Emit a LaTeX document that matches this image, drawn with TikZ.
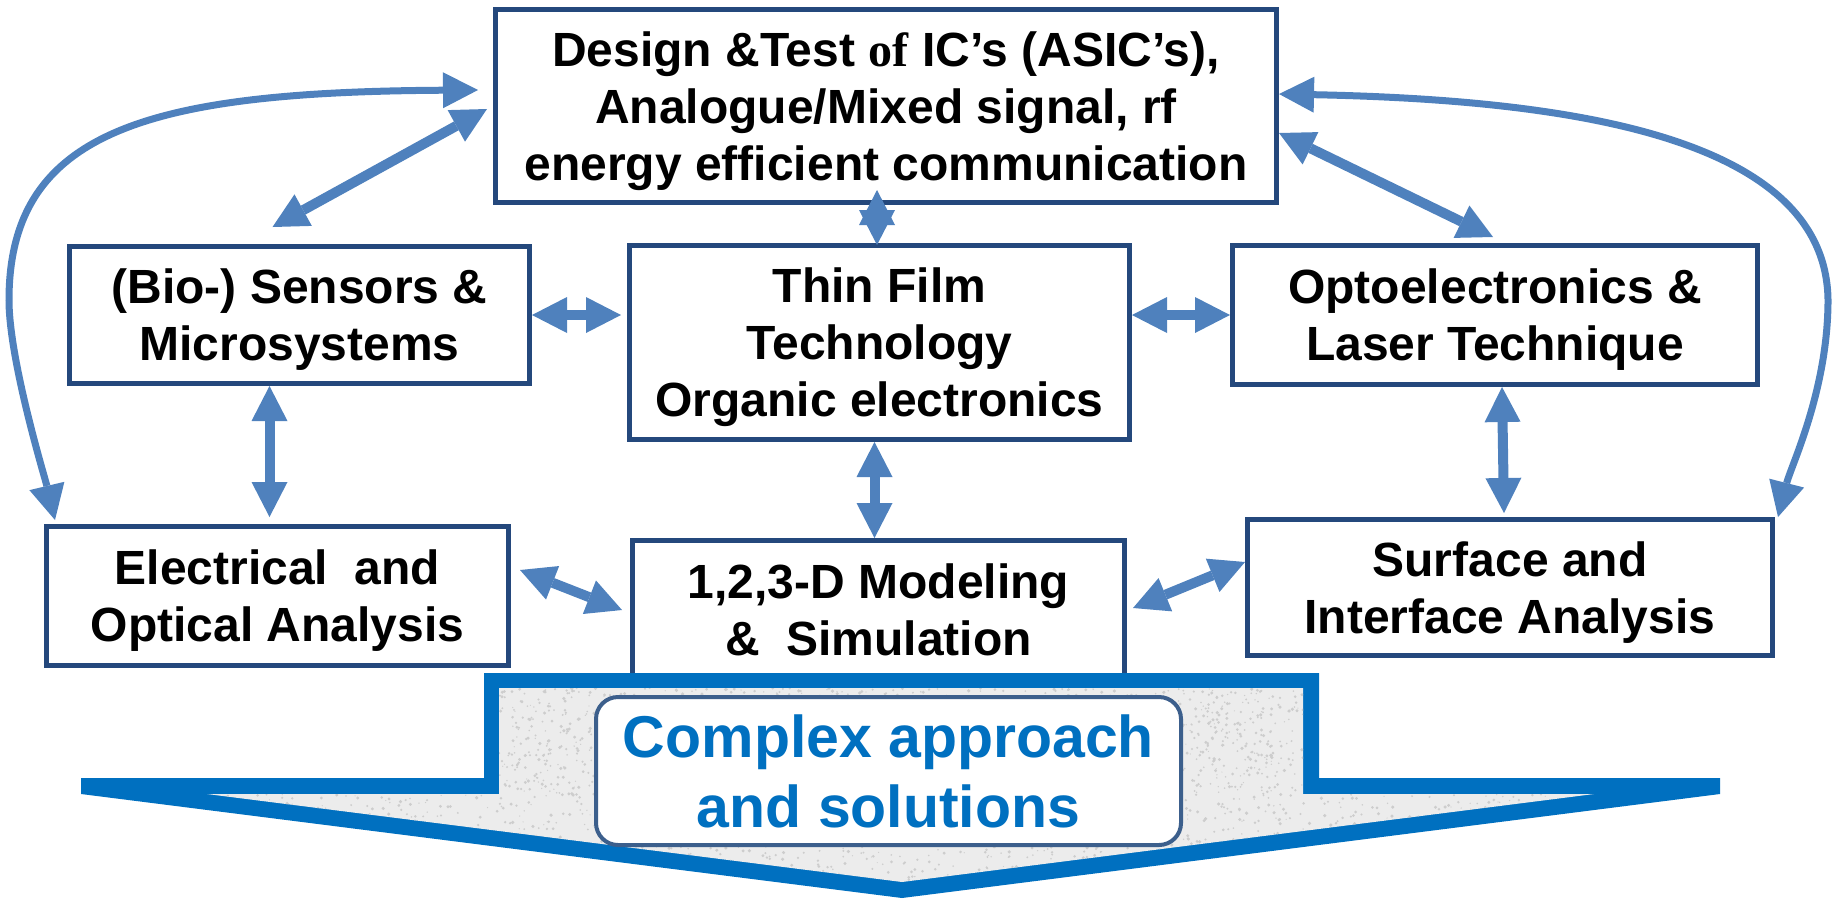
\documentclass[tikz,border=0pt]{standalone}
\usepackage{fontspec}
\setmainfont{Liberation Sans}
\newfontfamily\serifof{Liberation Serif}
\usetikzlibrary{arrows.meta,calc}
\definecolor{boxblue}{RGB}{36,72,124}
\definecolor{arrblue}{RGB}{79,129,189}
\definecolor{bigblue}{RGB}{0,112,192}
\definecolor{texgray}{RGB}{236,236,236}
\definecolor{texdot}{RGB}{205,205,205}
\definecolor{rndborder}{RGB}{60,95,140}
\newcommand\Lx[1]{\raisebox{0pt}[34pt][0pt]{#1}}
\newcommand\Lb[1]{\raisebox{0pt}[43pt][0pt]{#1}}
\begin{document}
\begin{tikzpicture}[x=1pt,y=-1pt,
  box/.style={draw=boxblue,line width=5pt,fill=white,inner sep=0pt,align=center,
    font=\fontsize{48}{57}\selectfont\bfseries},
  tipA/.tip={Triangle[length=35pt,width=36pt,line width=0pt]},
  conn/.style={draw=arrblue,line width=10pt,tipA-tipA},
  curv/.style={draw=arrblue,line width=7pt,tipA-tipA},
]
\useasboundingbox (0,0) rectangle (1835,898);

% boxes
\node[box,minimum width=781pt,minimum height=193pt] (top) at (886,106)
  {\Lx{Design \&Test {\serifof\bfseries of} IC’s (ASIC’s),}\\\Lx{Analogue/Mixed signal, rf}\\\Lx{energy efficient communication}};
\node[box,minimum width=460pt,minimum height=137pt] (bio) at (299.5,315)
  {\Lx{(Bio-) Sensors \&}\\\Lx{Microsystems}};
\node[box,minimum width=500pt,minimum height=194pt] (thin) at (879.5,342.5)
  {\Lx{Thin Film}\\\Lx{Technology}\\\Lx{Organic electronics}};
\node[box,minimum width=525pt,minimum height=139pt] (opto) at (1495,315)
  {\Lx{Optoelectronics \&}\\\Lx{Laser Technique}};
\node[box,minimum width=462pt,minimum height=139pt] (elec) at (277.5,596)
  {\Lx{Electrical~ and}\\\Lx{Optical Analysis}};
\node[box,minimum width=492pt,minimum height=139pt] (model) at (878.5,610)
  {\Lx{1,2,3-D Modeling}\\\Lx{\&~ Simulation}};
\node[box,minimum width=525pt,minimum height=136pt] (surf) at (1510,587.5)
  {\Lx{Surface and}\\\Lx{Interface Analysis}};

% connectors
\draw[curv] ($(elec.north west)+(11,-4)$) .. controls (45,478) and (9,360) .. (9,300)
  .. controls (9,130) and (150,92) .. ($(top.west)+(-15,-16)$);
\draw[curv] ($(top.east)+(0,-12)$) .. controls (1580,100) and (1826,140) .. (1828,300)
  .. controls (1828,390) and (1791,466) .. ($(surf.north east)+(3,0)$);
\draw[conn] ($(bio.north)+(-27,-17)$) -- ($(top.west)+(-6,3)$);
\draw[conn] ($(top.south)+(-9,-15)$) -- ($(thin.north)+(-2.5,2)$);
\draw[conn] (bio.east) -- ($(thin.west |- bio.east)+(-6,0)$);
\draw[conn] (opto.west -| thin.east) -- (opto.west);
\draw[conn] ($(top.east)+(0,27)$) -- ($(opto.north)+(-2,-6)$);
\draw[conn] ($(bio.south)+(-30,0)$) -- ($(bio.south |- elec.north)+(-30,-7)$);
\draw[conn] ($(thin.south)+(-5,0)$) -- ($(model.north)+(-4,0)$);
\draw[conn] ($(opto.south)+(7,0)$) -- ($(surf.north)+(-6,-4)$);
\draw[conn] ($(elec.east)+(9,-26)$) -- ($(model.west)+(-8,0)$);
\draw[conn] ($(model.east)+(6,-2)$) -- ($(surf.west)+(0,-25.5)$);

% big arrow
\fill[bigblue] (81,778) -- (484,778) -- (484,673) -- (1319,673) -- (1319,778) -- (1720,778)
  -- (1720,794) -- (902,898) -- (81,794) -- cycle;
\begin{scope}
  \clip (207,794) -- (499,794) -- (499,688) -- (1303,688) -- (1303,794) -- (1594,794)
    -- (902,882) -- cycle;
  \fill[texgray] (200,680) rectangle (1600,890);
  \pgfmathsetseed{7}
  \foreach \i in {1,...,1800} {
    \fill[texdot] ({499+804*rnd},{688+106*rnd}) circle ({0.6+1.2*rnd});
  }
  \foreach \i in {1,...,1400} {
    \fill[texdot] ({207+1387*rnd},{794+88*rnd}) circle ({0.6+1.2*rnd});
  }
\end{scope}

\node[draw=rndborder,line width=4pt,fill=white,rounded corners=22pt,inner sep=0pt,
  minimum width=585pt,minimum height=148pt,align=center,text=bigblue,
  font=\fontsize{59}{70}\selectfont\bfseries] (res) at (888.5,771)
  {\Lb{Complex approach}\\\Lb{and solutions}};
\end{tikzpicture}
\end{document}
